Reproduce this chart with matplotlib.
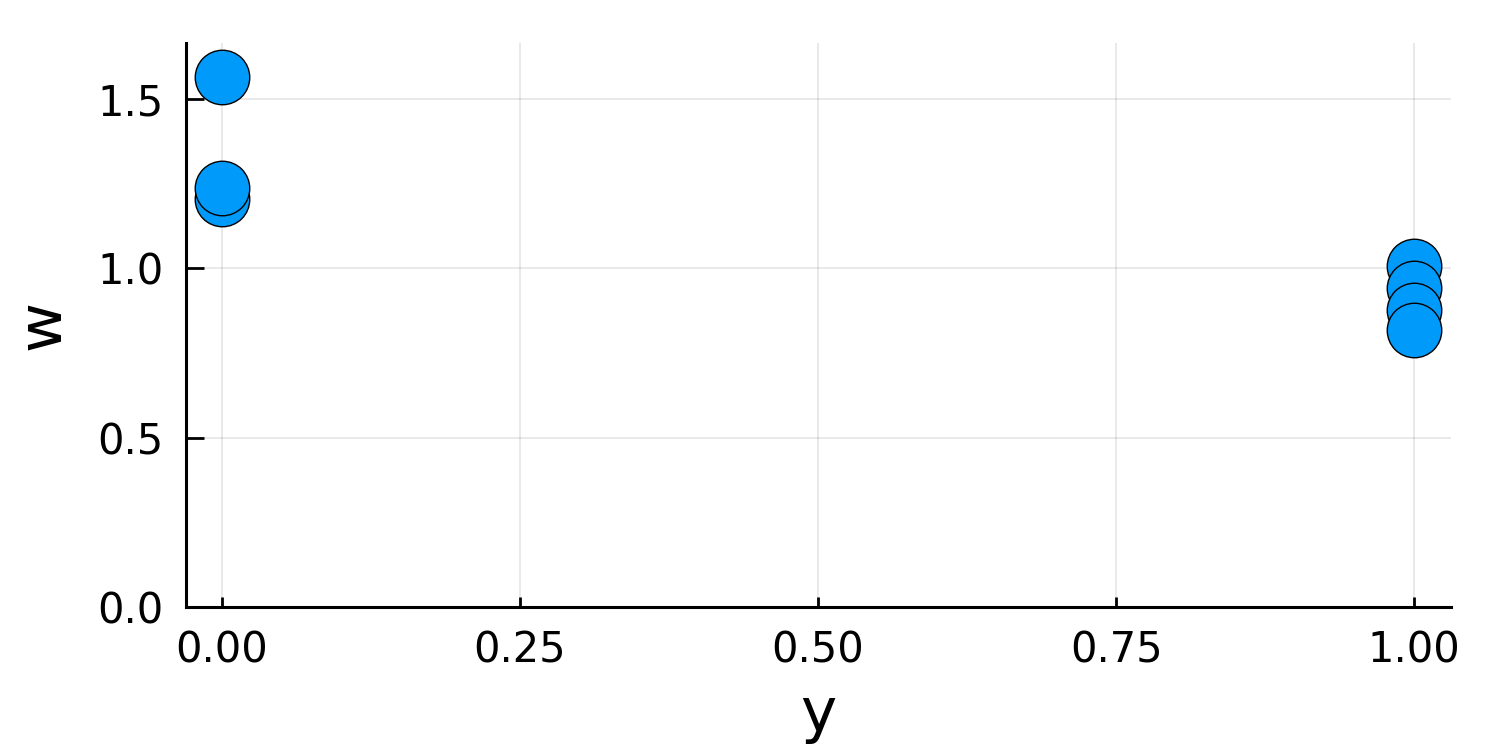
import matplotlib
matplotlib.use("Agg")
import matplotlib.pyplot as plt

# data (order matters for overlap)
y_vals = [0, 0, 0, 1, 1, 1, 1]
w_vals = [1.565, 1.205, 1.237, 1.006, 0.943, 0.876, 0.817]

x_ticks = [0.0, 0.25, 0.5, 0.75, 1.0]
x_ticklabels = ["0.00", "0.25", "0.50", "0.75", "1.00"]
w_ticks = [0.0, 0.5, 1.0, 1.5]
w_ticklabels = ["0.0", "0.5", "1.0", "1.5"]

plt.rcParams["font.family"] = ["DejaVu Sans"]

fig = plt.figure(figsize=(7.475, 3.735), dpi=200)
ax = fig.add_axes([0.1244, 0.1874, 0.8462, 0.755])

ax.scatter(y_vals, w_vals, s=385, color="#009AFA", edgecolor="black",
           linewidth=0.5, zorder=3, clip_on=False)

ax.set_xlim(-0.0302, 1.031)
ax.set_ylim(0, 1.665)
ax.set_xticks(x_ticks)
ax.set_xticklabels(x_ticklabels)
ax.set_yticks(w_ticks)
ax.set_yticklabels(w_ticklabels)

ax.grid(True, color="black", alpha=0.1, linewidth=0.6)
ax.set_axisbelow(True)
for side in ("top", "right"):
    ax.spines[side].set_visible(False)
for side in ("left", "bottom"):
    ax.spines[side].set_linewidth(1.1)

ax.tick_params(axis="x", direction="in", length=3.6, width=1.0, labelsize=15, pad=8)
ax.tick_params(axis="y", direction="in", length=6.5, width=1.0, labelsize=15, pad=8)

ax.set_xlabel("y", fontsize=22, labelpad=5)
ax.set_ylabel("w", fontsize=22, labelpad=9)

fig.savefig("out.png", dpi=200)
